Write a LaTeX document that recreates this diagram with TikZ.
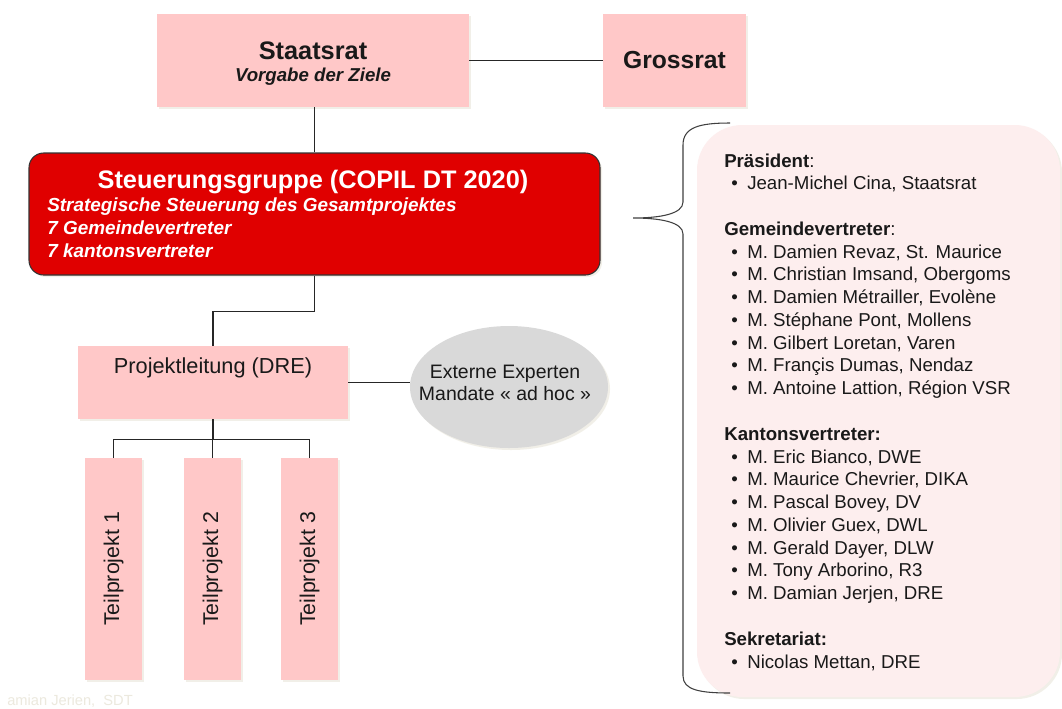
\documentclass[tikz,border=0pt]{standalone}
\usepackage{fontspec}
\usepackage{graphicx}
\setmainfont{Liberation Sans}
\usetikzlibrary{positioning, shapes.geometric, shadows}
\definecolor{boxPink}{RGB}{255,200,200}
\definecolor{copilRed}{RGB}{224,0,0}
\definecolor{panelPink}{RGB}{253,238,238}
\definecolor{expertGray}{RGB}{217,217,217}
\definecolor{shadowBeige}{RGB}{228,225,210}
\definecolor{lineBlack}{gray}{0.15}
\definecolor{textBlack}{gray}{0.1}
\definecolor{markBeige}{RGB}{236,233,222}
\newcommand{\pitem}[1]{\hspace*{5.25pt}\makebox[12pt][l]{\textbullet}#1}

\begin{document}
\begin{tikzpicture}[x=0.75pt, y=-0.75pt,
    soft/.style={drop shadow={fill=shadowBeige, shadow xshift=1.5pt, shadow yshift=-1.5pt}},
    pinkbox/.style={fill=boxPink, inner sep=0pt, soft},
    copilbox/.style={fill=copilRed, draw=black!80, line width=0.8pt, rounded corners=11pt,
        minimum width=428.25pt, minimum height=91.5pt, soft},
    tpbox/.style={pinkbox, minimum width=42.75pt, minimum height=166.5pt,
        font=\fontsize{16}{18}\selectfont, text=textBlack},
    expertell/.style={ellipse, fill=expertGray, inner sep=0pt, minimum width=148.5pt,
        minimum height=91.5pt, soft},
    tasktext/.style={anchor=base west, inner sep=0pt, text=white,
        font=\fontsize{14.2}{17}\selectfont\bfseries\itshape},
    conn/.style={draw=lineBlack, line width=0.8pt},
]
\useasboundingbox[fill=white] (0,0) rectangle (1062,708);

% top level
\node[pinkbox, minimum width=234pt, minimum height=69.75pt] (staatsrat) at (313,60.5) {};
\node[anchor=base, inner sep=0pt, text=textBlack, font=\fontsize{19}{22}\selectfont\bfseries] (staatsratname) at (313,59) {Staatsrat};
\node[anchor=base, inner sep=0pt, text=textBlack, font=\fontsize{14}{17}\selectfont\bfseries\itshape] (staatsratgoal) at (313,81) {Vorgabe der Ziele};
\node[pinkbox, minimum width=107.25pt, minimum height=69.75pt, text=textBlack,
    font=\fontsize{18.5}{22}\selectfont\bfseries] (grossrat) at (674.5,60.5) {Grossrat};

% steering group
\node[copilbox] (copil) at (314.5,214) {};
\node[anchor=base, inner sep=0pt, text=white, font=\fontsize{19}{22}\selectfont\bfseries] (copiltitle) at (313,188) {Steuerungsgruppe (COPIL DT 2020)};
\foreach \txt [count=\i] in {Strategische Steuerung des Gesamtprojektes, 7 Gemeindevertreter, 7 kantonsvertreter}
    \node[tasktext] (task\i) at (47,188+23*\i) {\txt};

% project management
\node[pinkbox, minimum width=202.5pt, minimum height=54.75pt] (pl) at (213,382.5) {};
\node[anchor=base, inner sep=0pt, text=textBlack, font=\fontsize{16.3}{19}\selectfont] (pltext) at (213,373.5) {Projektleitung (DRE)};
\node[expertell] (experts) at (509,387) {};
\node[anchor=base, inner sep=0pt, align=center, text=textBlack, font=\fontsize{14.6}{16.3}\selectfont]
    (expertstext) at (505,400) {Externe Experten\\Mandate « ad hoc »};

\foreach \n/\xc in {1/113.5, 2/212.5, 3/309.5}
    \node[tpbox] (tp\n) at (\xc,569) {\rotatebox{90}{Teilprojekt \n}};

% connectors
\draw[conn] (staatsrat.east) -- (grossrat.west);
\draw[conn] (staatsrat.south -| copil.north) -- (copil.north);
\draw[conn] (copil.south) -- ++(0,36) -| (pl.north);
\draw[conn] (pl.east) -- (pl.east -| experts.west);
\draw[conn] (pl.south) -- ++(0,20) coordinate (fork);
\foreach \n in {1,2,3}
    \draw[conn] (fork) -| (tp\n.north);

% members panel with brace
\node[fill=panelPink, rounded corners=34pt, minimum width=272.25pt, minimum height=429pt,
    inner sep=0pt, soft] (panel) at (878.5,411) {};
\coordinate (bracetip) at (633,218);
\draw[draw=black!75, line width=0.8pt] (730,123) .. controls (700,123) and (683,127) .. (683,145)
    -- (683,202) .. controls (683,214) and (660,218) .. (bracetip)
    .. controls (660,218) and (683,222) .. (683,234) -- (683,676)
    .. controls (683,690) and (700,693) .. (730,693);

\node[anchor=base west, inner sep=0pt, align=left, text=textBlack,
    font=\fontsize{14}{17.08}\selectfont] (members) at (724,668) {%
\textbf{Präsident}:\\
\pitem{Jean-Michel Cina, Staatsrat}\\[17.08pt]
\textbf{Gemeindevertreter}:\\
\pitem{M. Damien Revaz, St. Maurice}\\
\pitem{M. Christian Imsand, Obergoms}\\
\pitem{M. Damien Métrailler, Evolène}\\
\pitem{M. Stéphane Pont, Mollens}\\
\pitem{M. Gilbert Loretan, Varen}\\
\pitem{M. Françis Dumas, Nendaz}\\
\pitem{M. Antoine Lattion, Région VSR}\\[17.08pt]
\textbf{Kantonsvertreter:}\\
\pitem{M. Eric Bianco, DWE}\\
\pitem{M. Maurice Chevrier, DIKA}\\
\pitem{M. Pascal Bovey, DV}\\
\pitem{M. Olivier Guex, DWL}\\
\pitem{M. Gerald Dayer, DLW}\\
\pitem{M. Tony Arborino, R3}\\
\pitem{M. Damian Jerjen, DRE}\\[17.08pt]
\textbf{Sekretariat:}\\
\pitem{Nicolas Mettan, DRE}};

\node[anchor=base west, inner sep=0pt, text=markBeige, font=\fontsize{11}{13}\selectfont] (credit) at (7,705) {amian Jerien,\ \ SDT};
\end{tikzpicture}
\end{document}
